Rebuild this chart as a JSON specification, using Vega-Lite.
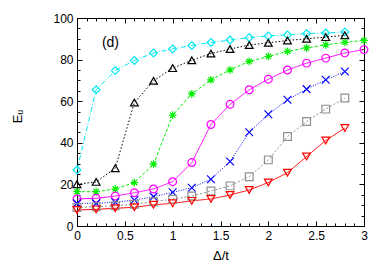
{
  "$schema": "https://vega.github.io/schema/vega-lite/v6.json",
  "autosize": "none",
  "width": 287,
  "height": 208,
  "padding": {"left": 77, "top": 18, "right": 24, "bottom": 45},
  "background": "white",
  "config": {
    "view": {"stroke": "black", "strokeWidth": 1},
    "font": "Liberation Sans",
    "axis": {"grid": false, "domainColor": "black", "tickColor": "black", "labelColor": "black", "titleColor": "black", "labelFontSize": 12, "titleFontSize": 13, "titleFontWeight": "normal", "labelFont": "Liberation Sans", "titleFont": "Liberation Sans", "labelOverlap": false, "labelFlush": false}
  },
  "data": {"values": [
    {"s": "c", "x": 0, "y": 26.9}, {"s": "c", "x": 0.2, "y": 65.5}, {"s": "c", "x": 0.4, "y": 74.7}, {"s": "c", "x": 0.6, "y": 79.6}, {"s": "c", "x": 0.8, "y": 83.2}, {"s": "c", "x": 1.0, "y": 85.1}, {"s": "c", "x": 1.2, "y": 86.8}, {"s": "c", "x": 1.4, "y": 88.2}, {"s": "c", "x": 1.6, "y": 89.4}, {"s": "c", "x": 1.8, "y": 90.6}, {"s": "c", "x": 2.0, "y": 91.4}, {"s": "c", "x": 2.2, "y": 91.9}, {"s": "c", "x": 2.4, "y": 92.5}, {"s": "c", "x": 2.6, "y": 92.8}, {"s": "c", "x": 2.8, "y": 93.3},
    {"s": "k", "x": 0, "y": 20.1}, {"s": "k", "x": 0.2, "y": 21.2}, {"s": "k", "x": 0.4, "y": 27.8}, {"s": "k", "x": 0.6, "y": 59.4}, {"s": "k", "x": 0.8, "y": 69.8}, {"s": "k", "x": 1.0, "y": 75.9}, {"s": "k", "x": 1.2, "y": 79.7}, {"s": "k", "x": 1.4, "y": 82.9}, {"s": "k", "x": 1.6, "y": 85.1}, {"s": "k", "x": 1.8, "y": 87.0}, {"s": "k", "x": 2.0, "y": 88.1}, {"s": "k", "x": 2.2, "y": 89.2}, {"s": "k", "x": 2.4, "y": 90.0}, {"s": "k", "x": 2.6, "y": 90.8}, {"s": "k", "x": 2.8, "y": 91.7},
    {"s": "g", "x": 0, "y": 16.5}, {"s": "g", "x": 0.2, "y": 16.5}, {"s": "g", "x": 0.4, "y": 17.8}, {"s": "g", "x": 0.6, "y": 20.9}, {"s": "g", "x": 0.8, "y": 29.7}, {"s": "g", "x": 1.0, "y": 53.3}, {"s": "g", "x": 1.2, "y": 63.5}, {"s": "g", "x": 1.4, "y": 70.3}, {"s": "g", "x": 1.6, "y": 75.1}, {"s": "g", "x": 1.8, "y": 79.1}, {"s": "g", "x": 2.0, "y": 81.5}, {"s": "g", "x": 2.2, "y": 84.0}, {"s": "g", "x": 2.4, "y": 85.6}, {"s": "g", "x": 2.6, "y": 87.1}, {"s": "g", "x": 2.8, "y": 88.3}, {"s": "g", "x": 3.0, "y": 89.2},
    {"s": "m", "x": 0, "y": 13.0}, {"s": "m", "x": 0.2, "y": 13.3}, {"s": "m", "x": 0.4, "y": 14.4}, {"s": "m", "x": 0.6, "y": 16.0}, {"s": "m", "x": 0.8, "y": 17.8}, {"s": "m", "x": 1.0, "y": 21.3}, {"s": "m", "x": 1.2, "y": 30.5}, {"s": "m", "x": 1.4, "y": 48.8}, {"s": "m", "x": 1.6, "y": 58.5}, {"s": "m", "x": 1.8, "y": 65.5}, {"s": "m", "x": 2.0, "y": 70.6}, {"s": "m", "x": 2.2, "y": 75.0}, {"s": "m", "x": 2.4, "y": 78.3}, {"s": "m", "x": 2.6, "y": 80.7}, {"s": "m", "x": 2.8, "y": 83.2}, {"s": "m", "x": 3.0, "y": 84.8},
    {"s": "b", "x": 0, "y": 10.9}, {"s": "b", "x": 0.2, "y": 10.9}, {"s": "b", "x": 0.4, "y": 11.4}, {"s": "b", "x": 0.6, "y": 12.5}, {"s": "b", "x": 0.8, "y": 14.1}, {"s": "b", "x": 1.0, "y": 16.2}, {"s": "b", "x": 1.2, "y": 18.4}, {"s": "b", "x": 1.4, "y": 22.5}, {"s": "b", "x": 1.6, "y": 31.0}, {"s": "b", "x": 1.8, "y": 45.1}, {"s": "b", "x": 2.0, "y": 53.7}, {"s": "b", "x": 2.2, "y": 60.7}, {"s": "b", "x": 2.4, "y": 65.8}, {"s": "b", "x": 2.6, "y": 70.3}, {"s": "b", "x": 2.8, "y": 74.3},
    {"s": "e", "x": 0, "y": 8.9}, {"s": "e", "x": 0.2, "y": 9.3}, {"s": "e", "x": 0.4, "y": 9.7}, {"s": "e", "x": 0.6, "y": 10.5}, {"s": "e", "x": 0.8, "y": 11.7}, {"s": "e", "x": 1.0, "y": 12.9}, {"s": "e", "x": 1.2, "y": 14.4}, {"s": "e", "x": 1.4, "y": 16.8}, {"s": "e", "x": 1.6, "y": 19.3}, {"s": "e", "x": 1.8, "y": 23.7}, {"s": "e", "x": 2.0, "y": 31.8}, {"s": "e", "x": 2.2, "y": 43.0}, {"s": "e", "x": 2.4, "y": 50.2}, {"s": "e", "x": 2.6, "y": 56.2}, {"s": "e", "x": 2.8, "y": 61.5},
    {"s": "r", "x": 0, "y": 7.7}, {"s": "r", "x": 0.2, "y": 8.0}, {"s": "r", "x": 0.4, "y": 8.5}, {"s": "r", "x": 0.6, "y": 9.0}, {"s": "r", "x": 0.8, "y": 10.2}, {"s": "r", "x": 1.0, "y": 10.9}, {"s": "r", "x": 1.2, "y": 12.1}, {"s": "r", "x": 1.4, "y": 13.0}, {"s": "r", "x": 1.6, "y": 14.9}, {"s": "r", "x": 1.8, "y": 17.3}, {"s": "r", "x": 2.0, "y": 20.9}, {"s": "r", "x": 2.2, "y": 25.6}, {"s": "r", "x": 2.4, "y": 33.4}, {"s": "r", "x": 2.6, "y": 41.1}, {"s": "r", "x": 2.8, "y": 47.1}
  ]},
  "layer": [
    {
      "mark": {"type": "line", "strokeWidth": 1, "clip": true},
      "encoding": {
        "x": {"field": "x", "type": "quantitative", "scale": {"domain": [0, 3], "nice": false},
          "axis": {"orient": "bottom", "title": "Δ/t", "values": [0,0.1,0.2,0.3,0.4,0.5,0.6,0.7,0.8,0.9,1,1.1,1.2,1.3,1.4,1.5,1.6,1.7,1.8,1.9,2,2.1,2.2,2.3,2.4,2.5,2.6,2.7,2.8,2.9,3],
            "labelExpr": "abs(datum.value*2-round(datum.value*2))<0.001 ? toString(round(datum.value*10)/10) : ''",
            "tickSize": {"condition": {"test": "abs(datum.value*2-round(datum.value*2))<0.001", "value": -5}, "value": -3},
            "labelPadding": 9, "titlePadding": 6}},
        "y": {"field": "y", "type": "quantitative", "scale": {"domain": [0, 100], "nice": false},
          "axis": {"orient": "left", "title": "Eᵤ", "values": [0,5,10,15,20,25,30,35,40,45,50,55,60,65,70,75,80,85,90,95,100],
            "labelExpr": "datum.value % 20 === 0 ? toString(datum.value) : ''",
            "tickSize": {"condition": {"test": "datum.value % 20 === 0", "value": -5}, "value": -3},
            "labelPadding": 9, "titleX": -60, "titleY": 98, "titleAngle": -90, "titleAlign": "center", "titleBaseline": "middle"}},
        "color": {"field": "s", "type": "nominal", "legend": null,
          "scale": {"domain": ["c","k","g","m","b","e","r"], "range": ["#00e8f0","#000000","#00ee00","#ff00ff","#0000ff","#909090","#ff0000"]}},
        "strokeDash": {"field": "s", "type": "nominal", "legend": null,
          "scale": {"domain": ["c","k","g","m","b","e","r"], "range": [[5,2,1,2],[1.5,2],[3,2],[1,0],[1,1.5],[2,2],[1,0]]}}
      }
    },
    {
      "mark": {"type": "point", "filled": false, "strokeWidth": 1.2, "size": 60, "opacity": 1},
      "encoding": {
        "x": {"field": "x", "type": "quantitative", "axis": null},
        "y": {"field": "y", "type": "quantitative", "axis": null},
        "color": {"field": "s", "type": "nominal", "legend": null},
        "shape": {"field": "s", "type": "nominal", "legend": null,
          "scale": {"domain": ["c","k","g","m","b","e","r"], "range": ["diamond","triangle-up","M-1,0L1,0M0,-1L0,1M-0.7,-0.7L0.7,0.7M-0.7,0.7L0.7,-0.7","circle","M-1,-1L1,1M-1,1L1,-1","square","triangle-down"]}}
      }
    },
    {
      "data": {"values": [{"label": "(d)"}]},
      "mark": {"type": "text", "fontSize": 14, "font": "Liberation Sans", "fill": "black"},
      "encoding": {
        "x": {"datum": 0.35, "type": "quantitative", "axis": null},
        "y": {"datum": 88, "type": "quantitative", "axis": null},
        "text": {"field": "label"}
      }
    },
    {
      "mark": {"type": "point", "opacity": 0},
      "encoding": {
        "x": {"field": "x", "type": "quantitative",
          "axis": {"orient": "top", "title": null, "labels": false, "domain": false, "values": [0,0.1,0.2,0.3,0.4,0.5,0.6,0.7,0.8,0.9,1,1.1,1.2,1.3,1.4,1.5,1.6,1.7,1.8,1.9,2,2.1,2.2,2.3,2.4,2.5,2.6,2.7,2.8,2.9,3],
            "tickSize": {"condition": {"test": "abs(datum.value*2-round(datum.value*2))<0.001", "value": -5}, "value": -3}}},
        "y": {"field": "y", "type": "quantitative",
          "axis": {"orient": "right", "title": null, "labels": false, "domain": false, "values": [0,5,10,15,20,25,30,35,40,45,50,55,60,65,70,75,80,85,90,95,100],
            "tickSize": {"condition": {"test": "datum.value % 20 === 0", "value": -5}, "value": -3}}}
      }
    }
  ],
  "resolve": {"axis": {"x": "independent", "y": "independent"}}
}
